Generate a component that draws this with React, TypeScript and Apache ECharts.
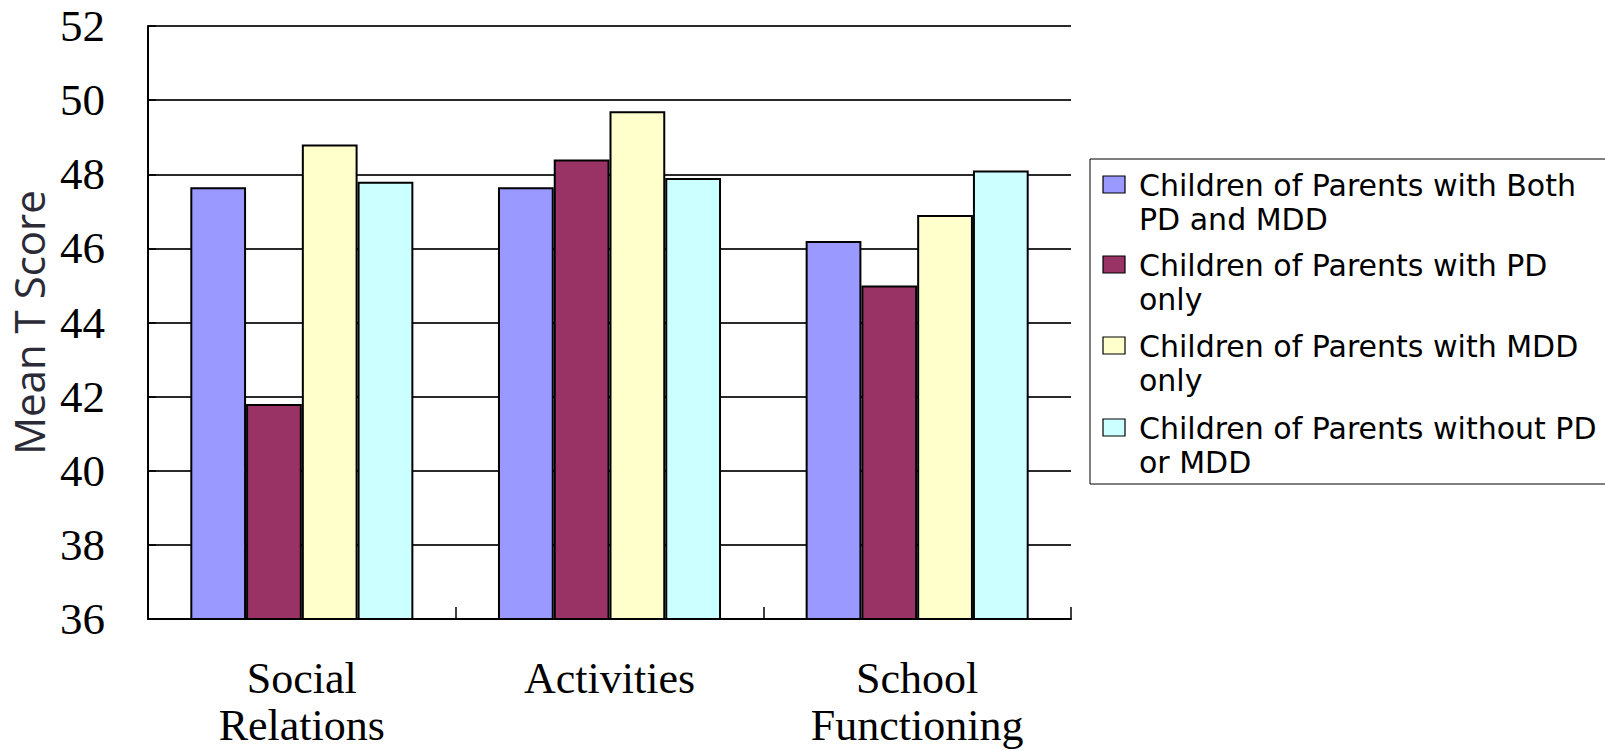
import React, { useEffect, useRef } from "react";
import * as echarts from "echarts";

const categories = ["Social\nRelations", "Activities", "School\nFunctioning"];
const seriesNames = [
  "Children of Parents with Both\nPD and MDD",
  "Children of Parents with PD\nonly",
  "Children of Parents with MDD\nonly",
  "Children of Parents without PD\nor MDD",
];
const bothValues = [47.65, 47.65, 46.2];
const pdOnlyValues = [41.8, 48.4, 45.0];
const mddOnlyValues = [48.8, 49.7, 46.9];
const neitherValues = [47.8, 47.9, 48.1];
const colors = ["#9999FF", "#993366", "#FFFFCC", "#CCFFFF"];
const yMin = 36;
const yMax = 52;
const yInterval = 2;

export default function App() {
  const ref = useRef<HTMLDivElement>(null);
  useEffect(() => {
    if (!ref.current) return;
    const chart = echarts.init(ref.current, null, { renderer: "svg" });
    const allValues = [bothValues, pdOnlyValues, mddOnlyValues, neitherValues];
    const legendLeft = 1090;
    const legendTop = 159;
    const itemStarts = [185, 265, 346, 428];
    const lineH = 34;
    const legendGraphics: any[] = [
      {
        type: "rect",
        shape: { x: legendLeft, y: legendTop, width: 560, height: 325 },
        style: { fill: "#fff", stroke: "#000", lineWidth: 1 },
        z: 10,
      },
    ];
    seriesNames.forEach((name, i) => {
      legendGraphics.push({
        type: "rect",
        shape: { x: 1103, y: itemStarts[i] - 9, width: 22, height: 17 },
        style: { fill: colors[i], stroke: "#000", lineWidth: 1.2 },
        z: 11,
      });
      legendGraphics.push({
        type: "text",
        x: 1139,
        y: itemStarts[i] - lineH / 2,
        style: {
          text: name,
          font: '30px "DejaVu Sans", "Liberation Sans", sans-serif',
          fill: "#000",
          lineHeight: lineH,
          verticalAlign: "top",
          align: "left",
        },
        z: 11,
      });
    });
    chart.setOption({
      animation: false,
      backgroundColor: "#fff",
      grid: {
        left: 148,
        top: 26,
        right: 534,
        bottom: 132,
        containLabel: false,
        outerBoundsMode: "none",
      },
      xAxis: {
        type: "category",
        data: categories,
        axisLine: { lineStyle: { color: "#000", width: 2 } },
        axisTick: { show: true, inside: true, length: 12, lineStyle: { color: "#000", width: 1.5 } },
        axisLabel: {
          interval: 0,
          margin: 36,
          color: "#000",
          fontFamily: '"Liberation Serif", "Times New Roman", serif',
          fontSize: 44,
          lineHeight: 47,
        },
        splitLine: { show: false },
      },
      yAxis: {
        type: "value",
        min: yMin,
        max: yMax,
        interval: yInterval,
        name: "Mean T Score",
        nameLocation: "middle",
        nameGap: 97,
        nameTextStyle: {
          color: "#2b2b38",
          fontFamily: '"Open Sans", "Noto Sans", sans-serif',
          fontSize: 42,
        },
        axisLine: { show: true, lineStyle: { color: "#000", width: 2 } },
        axisTick: { show: true, inside: true, length: 8, lineStyle: { color: "#000", width: 1.5 } },
        axisLabel: {
          margin: 43,
          color: "#000",
          fontFamily: '"Liberation Serif", "Times New Roman", serif',
          fontSize: 45,
        },
        splitLine: { show: true, lineStyle: { color: "#2a2a2a", width: 2 } },
      },
      series: allValues.map((vals, i) => ({
        type: "bar",
        name: seriesNames[i],
        data: vals,
        barGap: "0%",
        barCategoryGap: "27.5%",
        itemStyle: { color: colors[i], borderColor: "#000", borderWidth: 2 },
      })),
      graphic: legendGraphics,
    });
    return () => chart.dispose();
  }, []);
  return (
    <div
      ref={ref}
      style={{ position: "absolute", left: 0, top: 0, width: 1605, height: 751 }}
    />
  );
}
